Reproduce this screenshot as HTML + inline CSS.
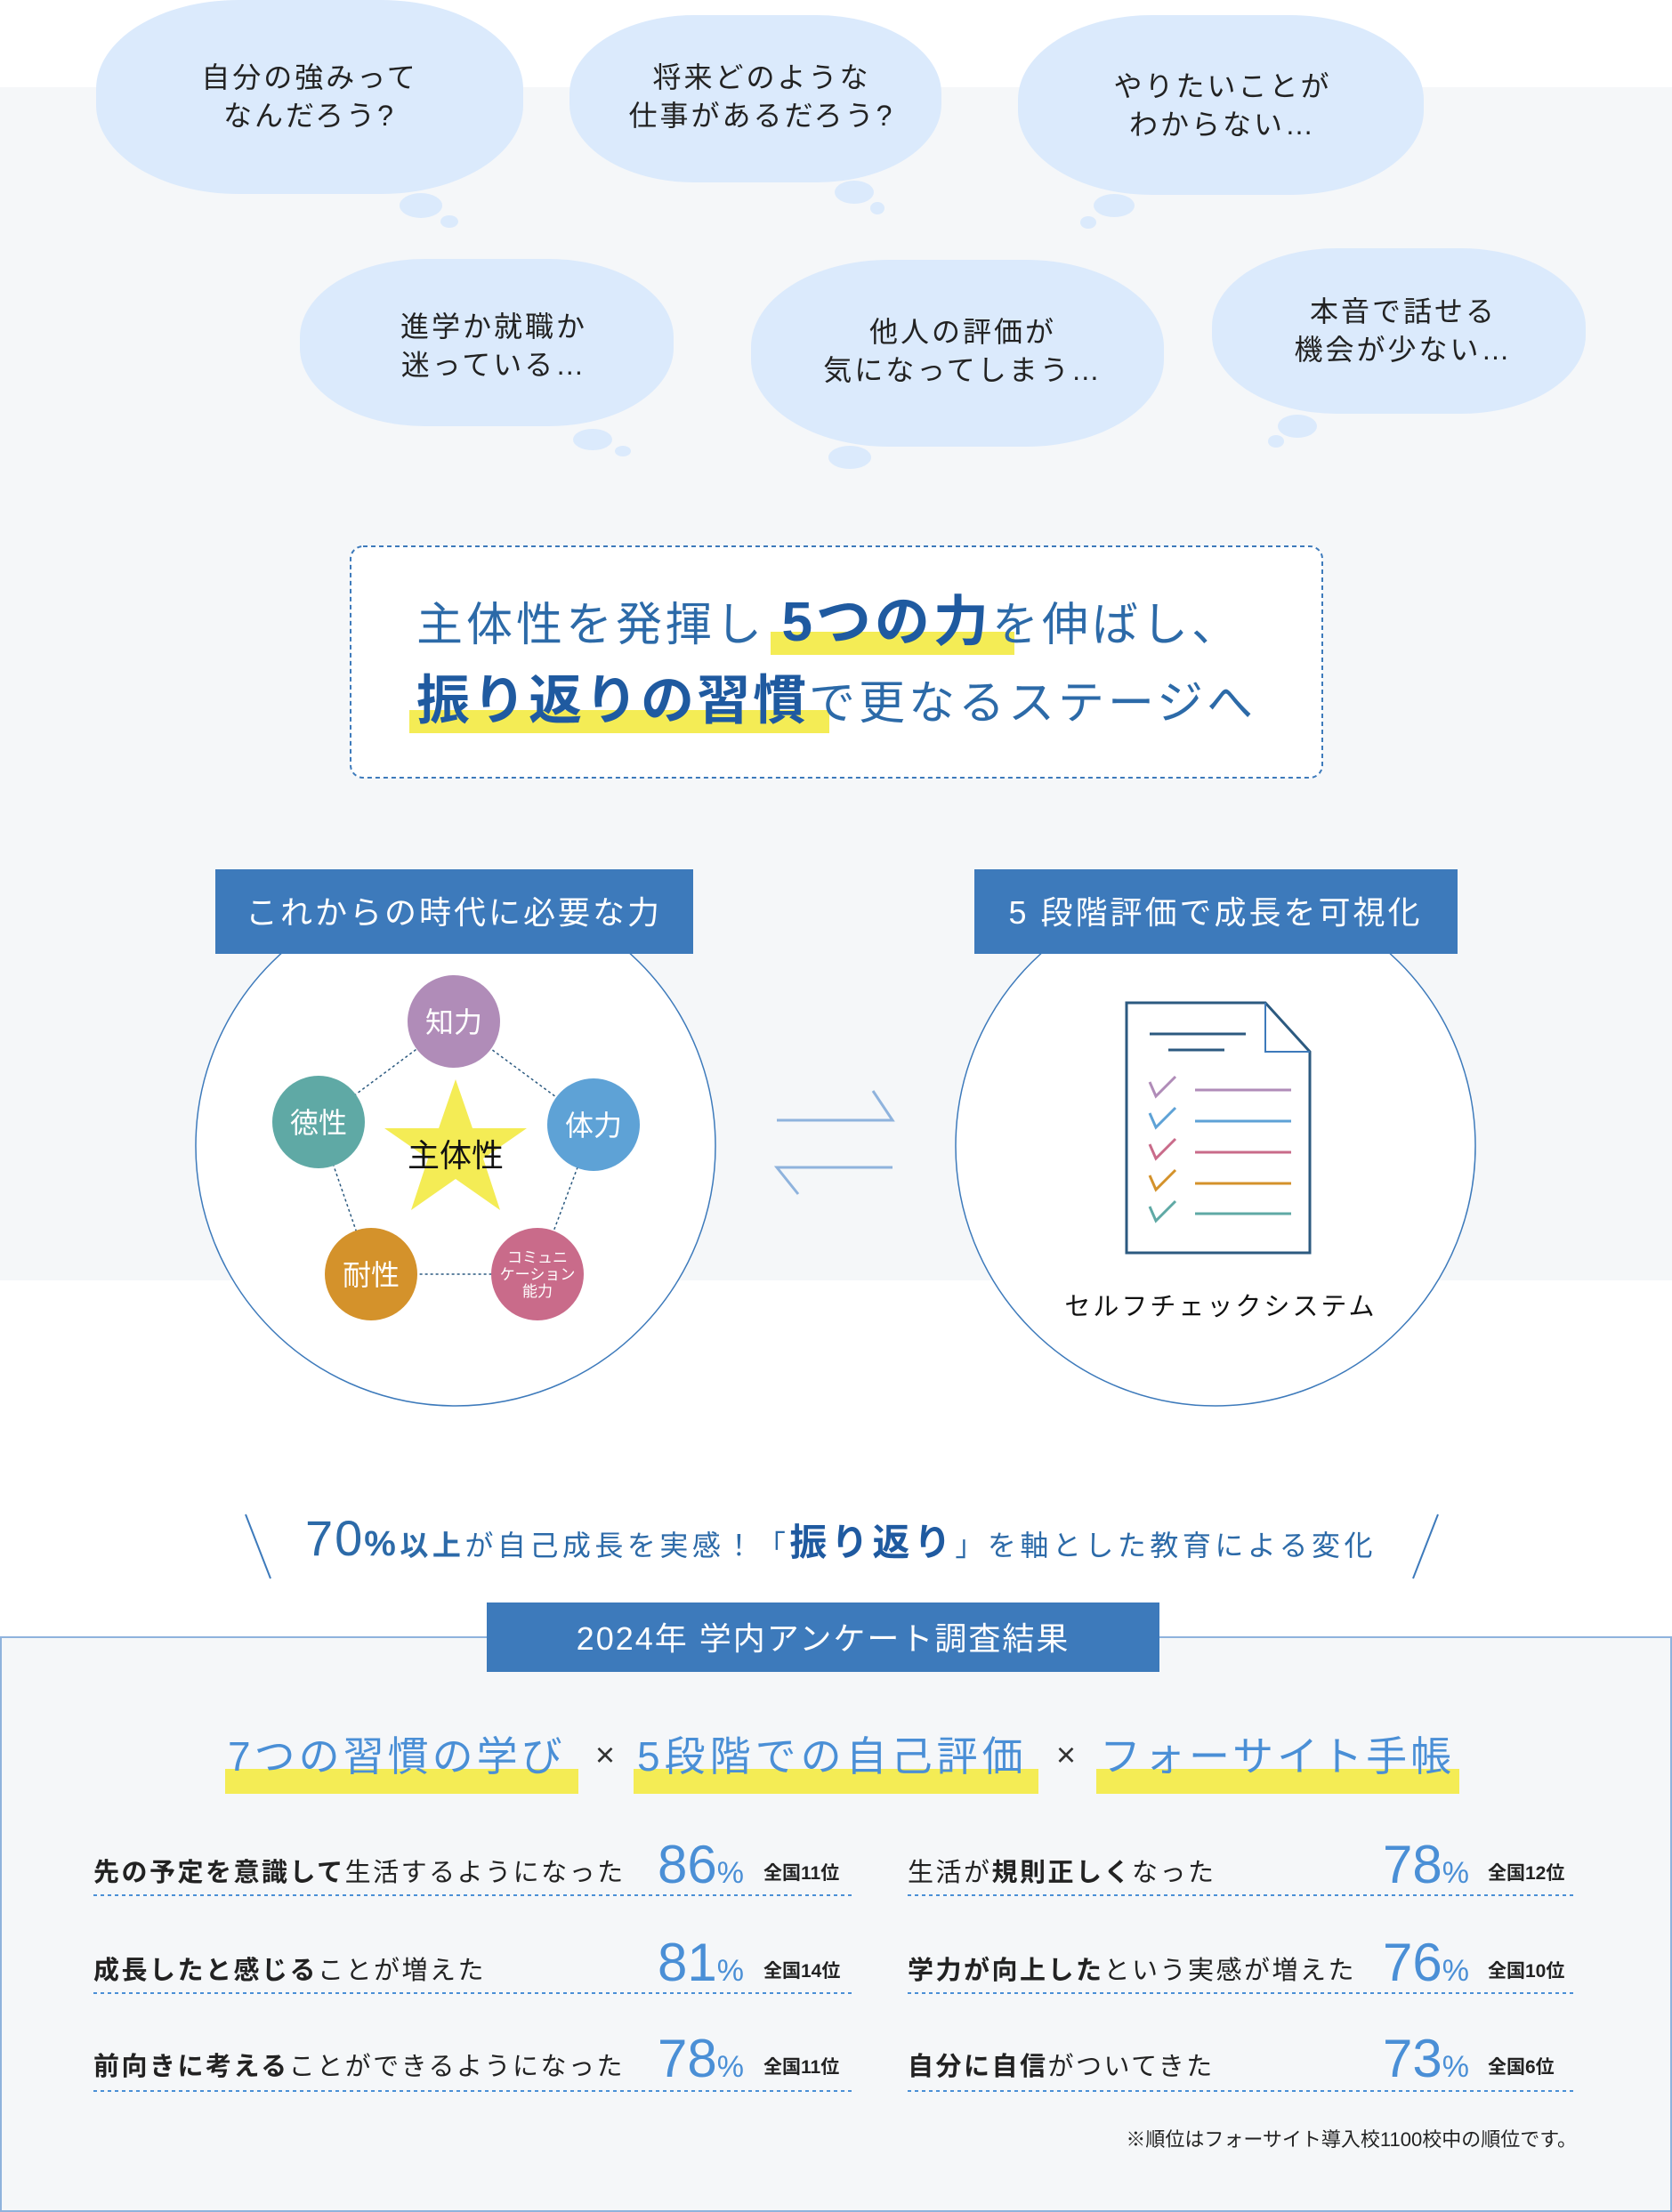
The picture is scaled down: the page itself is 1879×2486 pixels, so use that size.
<!DOCTYPE html>
<html><head><meta charset="utf-8"><style>
html,body{margin:0;padding:0;background:#fff}
svg{display:block}
text{font-family:"Liberation Sans","Noto Sans CJK JP",sans-serif}
</style></head><body>
<svg width="1879" height="2486" viewBox="0 0 1879 2486" xmlns="http://www.w3.org/2000/svg">
<rect x="0" y="98" width="1879" height="1341" fill="#f5f7f9"/>
<g fill="#dbeafc">
<rect x="108" y="0" width="480" height="218" rx="160" ry="100"/>
<rect x="640" y="17" width="418" height="188" rx="140" ry="88"/>
<rect x="1144" y="17" width="456" height="202" rx="150" ry="95"/>
<rect x="337" y="291" width="420" height="188" rx="140" ry="88"/>
<rect x="844" y="292" width="464" height="210" rx="155" ry="98"/>
<rect x="1362" y="279" width="420" height="186" rx="140" ry="88"/>
<ellipse cx="473" cy="231" rx="24" ry="14"/><ellipse cx="505" cy="249" rx="10" ry="7"/>
<ellipse cx="960" cy="216" rx="22" ry="13"/><ellipse cx="986" cy="234" rx="8" ry="7"/>
<ellipse cx="1252" cy="231" rx="23" ry="13"/><ellipse cx="1223" cy="250" rx="9" ry="7"/>
<ellipse cx="666" cy="494" rx="22" ry="12"/><ellipse cx="700" cy="507" rx="9" ry="6"/>
<ellipse cx="955" cy="514" rx="24" ry="13"/>
<ellipse cx="1458" cy="479" rx="22" ry="13"/><ellipse cx="1434" cy="496" rx="9" ry="7"/>
</g>
<g font-size="32" fill="#222" text-anchor="middle" letter-spacing="3">
<text x="348" y="98">自分の強みって</text><text x="348" y="141">なんだろう?</text>
<text x="856" y="98">将来どのような</text><text x="856" y="141">仕事があるだろう?</text>
<text x="1374" y="108">やりたいことが</text><text x="1374" y="151">わからない…</text>
<text x="555" y="378">進学か就職か</text><text x="555" y="421">迷っている…</text>
<text x="1082" y="384">他人の評価が</text><text x="1082" y="427">気になってしまう…</text>
<text x="1577" y="361">本音で話せる</text><text x="1577" y="404">機会が少ない…</text>
</g>
<rect x="394" y="614" width="1092" height="260" rx="14" fill="#fff" stroke="#3d7abb" stroke-width="2" stroke-dasharray="5,4"/>
<rect x="866" y="710" width="274" height="26" fill="#f4ec55"/>
<rect x="460" y="798" width="472" height="26" fill="#f4ec55"/>
<g font-size="52" fill="#2c6aa8" letter-spacing="4">
<text x="468" y="720">主体性を発揮し <tspan font-weight="bold" font-size="62" fill="#1f5aa0">5つの力</tspan>を伸ばし、</text>
<text x="468" y="808"><tspan font-weight="bold" font-size="60" fill="#1f5aa0" letter-spacing="3">振り返りの習慣</tspan>で更なるステージへ</text>
</g>
<circle cx="512" cy="1288" r="292" fill="#fff" stroke="#3d7abb" stroke-width="1.5"/>
<circle cx="1366" cy="1288" r="292" fill="#fff" stroke="#3d7abb" stroke-width="1.5"/>
<rect x="242" y="977" width="537" height="95" fill="#3d7abb"/>
<rect x="1095" y="977" width="543" height="95" fill="#3d7abb"/>
<g font-size="36" fill="#fff" text-anchor="middle" letter-spacing="3">
<text x="510" y="1038">これからの時代に必要な力</text>
<text x="1366" y="1038">5 段階評価で成長を可視化</text>
</g>
<g stroke="#2c5a80" stroke-width="1.5" stroke-dasharray="3,3" fill="none">
<polygon points="510,1148 667,1264 604,1432 417,1432 358,1261"/>
</g>
<polygon fill="#f4ec55" points="512,1213 531,1268 592,1268 543,1302 562,1360 512,1325 462,1360 481,1302 432,1268 493,1268"/>
<circle cx="510" cy="1148" r="52" fill="#b08cb8"/>
<circle cx="667" cy="1264" r="52" fill="#5ea2d6"/>
<circle cx="358" cy="1261" r="52" fill="#5fa9a5"/>
<circle cx="417" cy="1432" r="52" fill="#d4922b"/>
<circle cx="604" cy="1432" r="52" fill="#c96b8a"/>
<g font-size="32" fill="#fff" text-anchor="middle">
<text x="510" y="1160">知力</text><text x="667" y="1276">体力</text><text x="358" y="1273">徳性</text><text x="417" y="1444">耐性</text>
<text x="604" y="1419" font-size="17">コミュニ</text><text x="604" y="1438" font-size="17">ケーション</text><text x="604" y="1457" font-size="17">能力</text>
</g>
<text x="512" y="1311" font-size="36" text-anchor="middle" fill="#111">主体性</text>
<g stroke="#8fb3dd" stroke-width="3" fill="none">
<polyline points="873,1259 1003,1259 981,1226"/>
<polyline points="1003,1312 873,1312 897,1342"/>
</g>
<path d="M1266,1127 H1422 L1472,1182 V1408 H1266 Z" fill="#fff" stroke="#2c5a80" stroke-width="3"/>
<path d="M1422,1127 V1182 H1472" fill="none" stroke="#3d7abb" stroke-width="2"/>
<line x1="1292" y1="1162" x2="1400" y2="1162" stroke="#2c5a80" stroke-width="3"/>
<line x1="1313" y1="1180" x2="1376" y2="1180" stroke="#2c5a80" stroke-width="3"/>
<g stroke-width="3" fill="none">
<g stroke="#b08cb8"><polyline points="1292,1216 1299,1232 1321,1210"/><line x1="1343" y1="1225" x2="1451" y2="1225"/></g>
<g stroke="#5ea2d6"><polyline points="1292,1251 1299,1267 1321,1245"/><line x1="1343" y1="1260" x2="1451" y2="1260"/></g>
<g stroke="#c96b8a"><polyline points="1292,1286 1299,1302 1321,1280"/><line x1="1343" y1="1295" x2="1451" y2="1295"/></g>
<g stroke="#d4922b"><polyline points="1292,1321 1299,1337 1321,1315"/><line x1="1343" y1="1330" x2="1451" y2="1330"/></g>
<g stroke="#5fa9a5"><polyline points="1292,1356 1299,1372 1321,1350"/><line x1="1343" y1="1364" x2="1451" y2="1364"/></g>
</g>
<text x="1372" y="1478" font-size="29" text-anchor="middle" fill="#111" letter-spacing="3">セルフチェックシステム</text>
<g stroke="#3d7abb" stroke-width="2">
<line x1="276" y1="1702" x2="304" y2="1774"/><line x1="1616" y1="1702" x2="1588" y2="1774"/>
</g>
<text x="343" y="1748" font-size="32" fill="#2c6aa8" letter-spacing="4.5"><tspan font-size="56" letter-spacing="2">70</tspan><tspan font-size="40" font-weight="bold">%</tspan><tspan font-weight="bold">以上</tspan>が自己成長を実感！「<tspan font-size="42" font-weight="bold" fill="#1f5aa0">振り返り</tspan>」を軸とした教育による変化</text>
<rect x="1" y="1840" width="1877" height="645" fill="#f5f7f9" stroke="#8fb3dd" stroke-width="2"/>
<rect x="547" y="1801" width="756" height="78" fill="#3d7abb"/>
<text x="925" y="1854" font-size="36" fill="#fff" text-anchor="middle" letter-spacing="2">2024年 学内アンケート調査結果</text>
<g fill="#f4ec55">
<rect x="253" y="1988" width="397" height="28"/><rect x="712" y="1988" width="455" height="28"/><rect x="1232" y="1988" width="408" height="28"/>
</g>
<g font-size="46" fill="#4a8fd6" letter-spacing="4">
<text x="256" y="1990">7つの習慣の学び</text>
<text x="716" y="1990" letter-spacing="5">5段階での自己評価</text>
<text x="1236" y="1990">フォーサイト手帳</text>
</g>
<text x="680" y="1985" font-size="38" fill="#333" text-anchor="middle">×</text>
<text x="1198" y="1985" font-size="38" fill="#333" text-anchor="middle">×</text>
<g stroke="#4a8fd6" stroke-width="2" stroke-dasharray="4,4">
<line x1="105" y1="2130" x2="958" y2="2130"/><line x1="1020" y1="2130" x2="1770" y2="2130"/>
<line x1="105" y1="2240" x2="958" y2="2240"/><line x1="1020" y1="2240" x2="1770" y2="2240"/>
<line x1="105" y1="2350" x2="958" y2="2350"/><line x1="1020" y1="2350" x2="1770" y2="2350"/>
</g>
<g font-size="29" fill="#222" letter-spacing="2.5">
<text x="105" y="2114"><tspan font-weight="bold">先の予定を意識して</tspan>生活するようになった</text>
<text x="1020" y="2114">生活が<tspan font-weight="bold">規則正しく</tspan>なった</text>
<text x="105" y="2224"><tspan font-weight="bold">成長したと感じる</tspan>ことが増えた</text>
<text x="1020" y="2224"><tspan font-weight="bold">学力が向上した</tspan>という実感が増えた</text>
<text x="105" y="2332"><tspan font-weight="bold">前向きに考える</tspan>ことができるようになった</text>
<text x="1020" y="2332"><tspan font-weight="bold">自分に自信</tspan>がついてきた</text>
</g>
<g font-size="60" fill="#4a8fd6" text-anchor="end">
<text x="836" y="2116">86<tspan font-size="34">%</tspan></text>
<text x="1651" y="2116">78<tspan font-size="34">%</tspan></text>
<text x="836" y="2226">81<tspan font-size="34">%</tspan></text>
<text x="1651" y="2226">76<tspan font-size="34">%</tspan></text>
<text x="836" y="2334">78<tspan font-size="34">%</tspan></text>
<text x="1651" y="2334">73<tspan font-size="34">%</tspan></text>
</g>
<g font-size="21" fill="#222" font-weight="bold">
<text x="858" y="2112">全国11位</text><text x="1672" y="2112">全国12位</text>
<text x="858" y="2222">全国14位</text><text x="1672" y="2222">全国10位</text>
<text x="858" y="2330">全国11位</text><text x="1672" y="2330">全国6位</text>
</g>
<text x="1772" y="2412" font-size="22" fill="#222" text-anchor="end">※順位はフォーサイト導入校1100校中の順位です。</text>
</svg>
</body></html>
